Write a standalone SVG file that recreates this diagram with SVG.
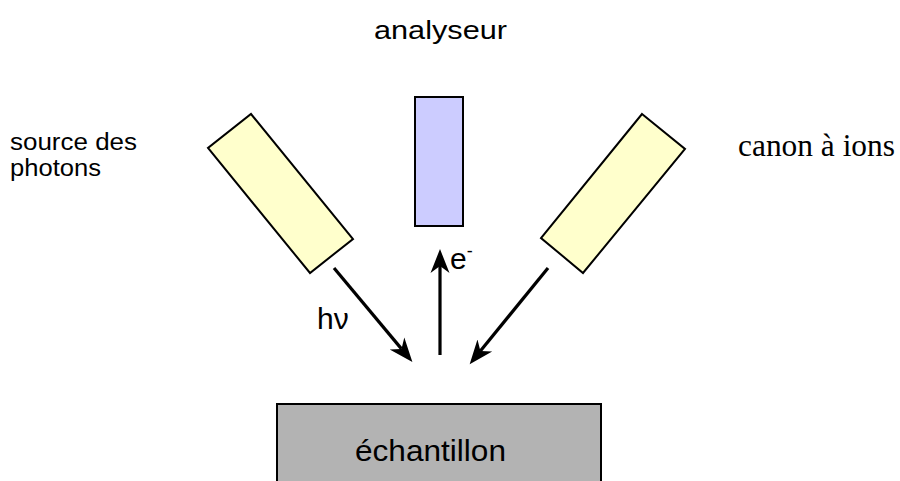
<svg xmlns="http://www.w3.org/2000/svg" width="900" height="481" viewBox="0 0 900 481">
<style>
.sans{font-family:"Liberation Sans",Arial,sans-serif;fill:#000}
.serif{font-family:"Liberation Serif","Times New Roman",serif;fill:#000}
.box{stroke:#000;stroke-width:2;stroke-linejoin:miter}
.arr{stroke:#000;stroke-width:3.2;fill:none;marker-end:url(#ah)}
</style>
<defs>
<marker id="ah" markerUnits="userSpaceOnUse" viewBox="0 0 26 22" refX="7" refY="11" markerWidth="26" markerHeight="22" orient="auto">
<path d="M0,1.5 L24,11 L0,20.5 L7,11 z" fill="#000"/>
</marker>
</defs>
<rect width="900" height="481" fill="#fff"/>
<text class="sans" x="374" y="39" font-size="26" textLength="133" lengthAdjust="spacingAndGlyphs">analyseur</text>
<g id="source">
<polygon class="box" points="251,114 353,239 310,273 208,148" fill="#ffffcc"/>
<text class="sans" font-size="23"><tspan x="10" y="150" textLength="127" lengthAdjust="spacingAndGlyphs">source des</tspan><tspan x="10" y="176" textLength="91" lengthAdjust="spacingAndGlyphs">photons</tspan></text>
</g>
<g id="analyseur">
<rect class="box" x="415" y="97" width="48" height="129" fill="#ccccff"/>
</g>
<g id="canon">
<polygon class="box" points="642,114 685,149 583,273 541,238" fill="#ffffcc"/>
<text class="serif" x="738" y="156" font-size="31" textLength="157" lengthAdjust="spacingAndGlyphs">canon à ions</text>
</g>
<g id="echantillon">
<rect class="box" x="277" y="404" width="324" height="90" fill="#b3b3b3"/>
<text class="sans" x="355" y="461" font-size="30" textLength="151" lengthAdjust="spacingAndGlyphs">échantillon</text>
</g>
<g id="connectors">
<line class="arr" x1="334" y1="268" x2="401.5" y2="348.9"/>
<line class="arr" x1="440" y1="355" x2="440" y2="266"/>
<line class="arr" x1="548" y1="268" x2="480.4" y2="351"/>
<text class="sans" x="317" y="329" font-size="30">hν</text>
<text class="sans" x="450" y="269" font-size="30">e<tspan font-size="18" dy="-12">-</tspan></text>
</g>
</svg>
